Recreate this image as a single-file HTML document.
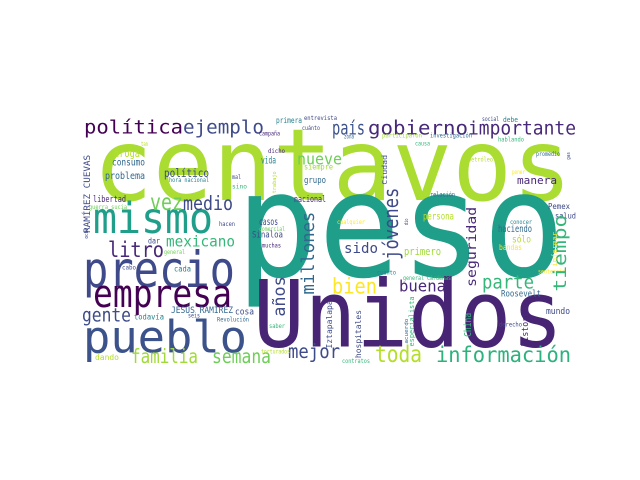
<!DOCTYPE html>
<html><head><meta charset="utf-8"><style>
html,body{margin:0;padding:0;background:#fff;}
svg{display:block;}
text{font-family:"DejaVu Sans Mono","Liberation Mono",monospace;}
</style></head>
<body>
<svg width="640" height="480" viewBox="0 0 640 480" xmlns="http://www.w3.org/2000/svg">
<rect width="640" height="480" fill="#fff"/>
<g id="cloud" transform="translate(0,100) scale(1,0.963) translate(0,-100)"></g>
</svg>
<script>
// [word, x, baseline, fontSize, length, color, rotated]
const words = [
["centavos",93,204,104,479,"#aadc32",0],
["peso",236,283,152,329,"#1f9e89",0],
["Unidos",253,356,96,310,"#482475",0],
["pueblo",83,362,46,164,"#3b528b",0],
["precio",83,294,52,152,"#3e4a89",0],
["empresa",93,315,40,139,"#440154",0],
["mismo",93,238,44,120,"#1f9e89",0],
["política",84,135,19,99,"#440154",0],
["ejemplo",183,135,19,81,"#3e4a89",0],
["país",332,136,19,33,"#3b528b",0],
["gobierno",368,136,20,100,"#482878",0],
["importante",468,136,19,108,"#482878",0],
["vez",150,214,24,33,"#6ece58",0],
["medio",183,214,20,50,"#3e4a89",0],
["nueve",297,167,17,45,"#6ece58",0],
["litro",108,263,22,56,"#482878",0],
["mexicano",166,252,16,69,"#35b779",0],
["gente",82,330,19,49,"#3e4a89",0],
["familia",131,373,20,67,"#a0da39",0],
["semana",212,373,20,59,"#6ece58",0],
["mejor",288,368,20,52,"#3e4a89",0],
["toda",375,372,24,47,"#b5de2b",0],
["información",436,372,22,135,"#2db27d",0],
["bien",332,301,22,45,"#fde725",0],
["buena",399,299,17,47,"#482878",0],
["parte",482,296,19,52,"#35b779",0],
["sido",344,259,15,34,"#3e4a89",0],
["primero",404,261,11,37,"#a0da39",0],
["Roosevelt",501,304,9,40,"#31688e",0],
["mundo",546,322,9,24,"#3e4a89",0],
["JESÚS RAMÍREZ",171,321,9,62,"#31688e",0],
["cosa",235,323,9,19,"#3e4a89",0],
["todavía",134,328,8,30,"#26828e",0],
["dando",95,370,8,24,"#b5de2b",0],
["droga",114,159,11,26,"#b5de2b",0],
["consumo",112,168,10,33,"#31688e",0],
["problema",105,182,10,40,"#31688e",0],
["vida",261,166,10,15,"#26828e",0],
["político",164,180,12,45,"#3e4a89",0],
["hora nacional",169,185,6,40,"#26828e",0],
["libertad",93,206,9,33,"#482878",0],
["guerra sucia",89,213,6,38,"#6ece58",0],
["grupo",304,186,9,22,"#31688e",0],
["siempre",304,172,8,29,"#a0da39",0],
["nacional",294,206,9,32,"#482878",0],
["casos",259,230,10,19,"#3e4a89",0],
["comercial",259,236,6,26,"#6ece58",0],
["Sinaloa",252,243,9,31,"#3e4a89",0],
["hacen",219,231,6,16,"#3e4a89",0],
["primera",276,124,8,26,"#26828e",0],
["campaña",259,137,6,21,"#482878",0],
["manera",517,187,11,40,"#482878",0],
["relación",430,200,6,25,"#31688e",0],
["debe",503,123,7,15,"#26828e",0],
["social",482,122,6,17,"#3e4a89",0],
["investigación",430,139,6,42,"#31688e",0],
["participaron",382,139,6,40,"#a0da39",0],
["hablando",498,143,6,26,"#35b779",0],
["causa",415,147,6,15,"#35b779",0],
["petróleo",468,164,6,25,"#b5de2b",0],
["promedio",536,158,6,24,"#31688e",0],
["poner",512,177,6,13,"#fde725",0],
["Pemex",548,213,8,22,"#3e4a89",0],
["salud",555,223,8,21,"#3e4a89",0],
["conocer",510,229,6,22,"#26828e",0],
["haciendo",498,237,10,34,"#31688e",0],
["sólo",512,248,10,19,"#b5de2b",0],
["bandas",499,256,8,23,"#fde725",0],
["persona",423,224,10,31,"#b5de2b",0],
["cualquier",337,229,6,28,"#fde725",0],
["cuanto",377,281,6,19,"#26828e",0],
["general Cárdenas",403,287,6,48,"#35b779",0],
["sentencia",538,280,6,27,"#fde725",0],
["contratos",342,373,6,28,"#35b779",0],
["derecho",499,335,6,23,"#3e4a89",0],
["muchas",262,253,6,19,"#482878",0],
["general",164,260,6,21,"#6ece58",0],
["dar",148,249,8,12,"#3e4a89",0],
["cada",174,278,8,17,"#26828e",0],
["cabo",122,276,6,14,"#3e4a89",0],
["seis",188,326,6,12,"#3e4a89",0],
["Revolución",217,330,6,32,"#31688e",0],
["saber",269,337,6,16,"#35b779",0],
["torturados",261,363,6,29,"#b5de2b",0],
["zona",344,140,6,10,"#31688e",0],
["entrevista",304,121,6,33,"#3e4a89",0],
["cuánto",302,131,6,18,"#3e4a89",0],
["dicho",268,155,6,17,"#482878",0],
["mal",232,182,6,9,"#3e4a89",0],
["sino",232,192,6,15,"#35b779",0],
["tan",141,148,6,7,"#b5de2b",0],
["tiempo",566,299,18,80,"#35b779",1],
["seguridad",476,294,13,83,"#482878",1],
["jóvenes",398,266,20,75,"#3e4a89",1],
["millones",314,302,18,86,"#31688e",1],
["años",285,325,17,42,"#3e4a89",1],
["RAMÍREZ CUEVAS",90,238,9,81,"#3e4a89",1],
["Ciudad",387,188,7,31,"#3e4a89",1],
["trabajo",276,197,5,23,"#b5de2b",1],
["hospitales",361,368,8,50,"#3e4a89",1],
["especialista",414,356,7,52,"#35b779",1],
["acuerdo",408,353,5,26,"#31688e",1],
["Iztapalapa",332,358,8,50,"#3e4a89",1],
["China",471,346,10,25,"#35b779",1],
["historia",528,356,9,41,"#482878",1],
["informar",557,273,7,36,"#fde725",1],
["gas",570,162,5,8,"#3e4a89",1],
["dio",408,230,5,7,"#3e4a89",1],
["ocho",88,244,5,11,"#3e4a89",1]
];
const g = document.getElementById('cloud');
const NS = 'http://www.w3.org/2000/svg';
words.forEach(w => {
  const t = document.createElementNS(NS, 'text');
  
  
  t.setAttribute('font-size', w[3]);
  t.setAttribute('fill', w[5]);
  t.setAttribute('textLength', w[4]);
  t.setAttribute('lengthAdjust', 'spacingAndGlyphs');
  if (w[6]) {
    t.setAttribute('transform', 'translate(' + w[1] + ',' + w[2] + ') rotate(-90)');
  } else {
    t.setAttribute('x', w[1]);
    t.setAttribute('y', w[2]);
  }
  t.textContent = w[0];
  g.appendChild(t);
});
</script>
</body></html>
